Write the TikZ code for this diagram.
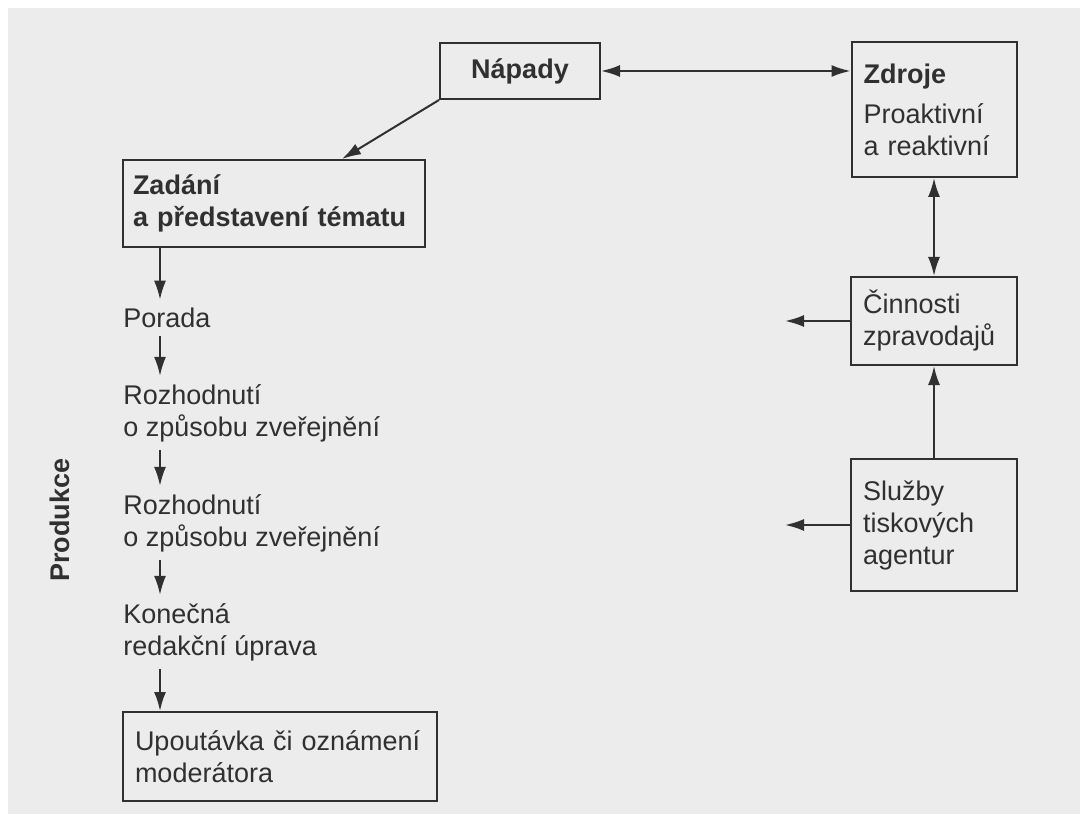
\documentclass[tikz,border=0pt]{standalone}
\usepackage{fontspec}
\setmainfont{Liberation Sans}
\usetikzlibrary{arrows.meta}
\definecolor{paper}{RGB}{236,236,236}
\definecolor{ink}{RGB}{48,48,48}
\newcommand{\diagfont}{\fontsize{13.5}{16}\selectfont}

\begin{document}
\begin{tikzpicture}[x=0.5pt,y=-0.5pt,
    every node/.style={text=ink,font=\diagfont},
    box/.style={draw=ink,line width=1pt,rectangle,align=left,inner xsep=6pt,inner ysep=0pt},
    stage/.style={anchor=west,align=left,inner xsep=0pt,inner ysep=4pt},
    flow/.style={draw=ink,line width=1pt},
    >={Latex[length=9.5pt,width=6pt]}]
    \useasboundingbox (0,0) rectangle (1080,823);
    \fill[paper] (8,8) rectangle (1080,814);
    % boxes
    \path (520,71) node[box,align=center,text width=68pt,minimum height=28pt] (napady) {\bfseries Nápady};
    \path (934,109.5) node[box,text width=70.5pt,minimum height=67.5pt] (zdroje) {{\bfseries Zdroje}\\[4pt]Proaktivní\\a reaktivní};
    \path (934,321) node[box,text width=71pt,minimum height=44pt] (cinnosti) {Činnosti\\zpravodajů};
    \path (934,525) node[box,text width=71pt,minimum height=66pt] (sluzby) {Služby\\tiskových\\agentur};
    \path (274,203.5) node[box,inner xsep=5pt,text width=141pt,minimum height=43.5pt,font=\diagfont\bfseries] (zadani) {Zadání\\a představení tématu};
    \path (280,756.5) node[box,text width=145pt,minimum height=44.5pt] (upoutavka) {Upoutávka či oznámení\\moderátora};
    % production steps
    \path (123,318) node[stage] (porada) {Porada};
    \path (123,413) node[stage] (rozh1) {Rozhodnutí\\o způsobu zveřejnění};
    \path (123,523) node[stage] (rozh2) {Rozhodnutí\\o způsobu zveřejnění};
    \path (123,632) node[stage] (konecna) {Konečná\\redakční úprava};
    \path (60,520) node[rotate=90,font=\diagfont\bfseries] (produkce) {Produkce};
    \coordinate (ax) at (160,0);
    \coordinate (nz) at (342,0);
    \coordinate (out) at (785,0);
    % connectors
    \draw[flow,<->] (napady.east) -- (napady.east -| zdroje.west);
    \draw[flow,->] (napady.south west) -- (zadani.north -| nz);
    \draw[flow,<->] (zdroje.south) -- (cinnosti.north);
    \draw[flow,->] (sluzby.north) -- (cinnosti.south);
    \draw[flow,->] (cinnosti.west) -- (cinnosti.west -| out);
    \draw[flow,->] (sluzby.west) -- (sluzby.west -| out);
    \draw[flow,->] (zadani.south -| ax) -- (porada.north -| ax);
    \draw[flow,->] (porada.south -| ax) -- (rozh1.north -| ax);
    \draw[flow,->] (rozh1.south -| ax) -- (rozh2.north -| ax);
    \draw[flow,->] (rozh2.south -| ax) -- (konecna.north -| ax);
    \draw[flow,->] (konecna.south -| ax) -- (upoutavka.north -| ax);
\end{tikzpicture}
\end{document}
